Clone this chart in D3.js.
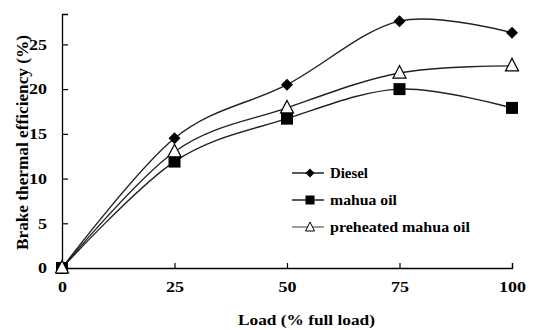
<!DOCTYPE html>
<meta charset="utf-8">
<body style="margin:0;background:#fff">
<script src="https://d3js.org/d3.v7.min.js"></script>
<script>

var width = 533,
    height = 330;

// data
var loads = [0, 25, 50, 75, 100];
var diesel = [0, 14.5, 20.5, 27.6, 26.3];
var mahua = [0, 11.9, 16.7, 20.0, 17.9];
var preheated = [0, 13.0, 17.9, 21.8, 22.6];
var xTicks = [0, 25, 50, 75, 100];
var yTicks = [0, 5, 10, 15, 20, 25];

var series = [
  {name: "Diesel", values: diesel, marker: "diamond", width: 38},
  {name: "mahua oil", values: mahua, marker: "square", width: 67},
  {name: "preheated mahua oil", values: preheated, marker: "triangle", width: 140}
];

var font = "Liberation Serif, DejaVu Serif, serif";

var svg = d3.select("body").append("svg")
    .attr("width", width)
    .attr("height", height)
    .attr("font-family", font);

var x = d3.scaleLinear().domain([0, 100]).range([62, 512]);
var y = d3.scaleLinear().domain([0, 28.4]).range([268, 14]);

// axes (the original picture is stretched sideways, so labels are widened)
var yAxis = svg.append("g")
    .attr("transform", "translate(62,0)")
    .call(d3.axisLeft(y).tickValues(yTicks).tickSize(-6).tickPadding(14));
var xAxis = svg.append("g")
    .attr("transform", "translate(0,268)")
    .call(d3.axisBottom(x).tickValues(xTicks).tickSize(-5).tickPadding(13));

[xAxis, yAxis].forEach(function(a) {
  a.attr("font-family", font).attr("font-size", 15).attr("font-weight", "bold");
  a.select(".domain").attr("stroke", "#000").attr("stroke-width", 1.3);
  a.selectAll(".tick line").attr("stroke", "#000").attr("stroke-width", 1.2);
  a.selectAll(".tick text").attr("fill", "#000");
});
xAxis.selectAll(".tick text").attr("transform", "scale(1.2,1)");
yAxis.selectAll(".tick text").attr("x", -15 / 1.2).attr("transform", "scale(1.2,1)");
// first x tick sits on the y-axis
xAxis.selectAll(".tick line").filter(function(d) { return d === 0; }).remove();

// axis titles
svg.append("text")
    .attr("x", 238).attr("y", 325)
    .attr("textLength", 137).attr("lengthAdjust", "spacingAndGlyphs")
    .attr("font-weight", "bold").attr("font-size", 15)
    .text("Load (% full load)");

svg.append("text")
    .attr("transform", "translate(28,250) rotate(-90)")
    .attr("textLength", 215).attr("lengthAdjust", "spacingAndGlyphs")
    .attr("font-weight", "bold").attr("font-size", 16)
    .text("Brake thermal efficiency (%)");

var line = d3.line()
    .x(function(d, i) { return x(loads[i]); })
    .y(function(d) { return y(d); })
    .curve(d3.curveCardinal.tension(0));

function drawMarker(g, type, cx, cy) {
  if (type === "diamond") {
    g.append("path")
        .attr("d", "M0,-6L6,0L0,6L-6,0Z")
        .attr("transform", "translate(" + cx + "," + cy + ")")
        .attr("fill", "#000");
  } else if (type === "square") {
    g.append("rect")
        .attr("x", cx - 6).attr("y", cy - 6)
        .attr("width", 12).attr("height", 12)
        .attr("fill", "#000");
  } else {
    g.append("path")
        .attr("d", "M0,-7.5L6.5,5L-6.5,5Z")
        .attr("transform", "translate(" + cx + "," + cy + ")")
        .attr("fill", "#fff").attr("stroke", "#000").attr("stroke-width", 1.2);
  }
}

var plot = svg.append("g");

// lines first, markers on top
series.forEach(function(s) {
  plot.append("path")
      .datum(s.values)
      .attr("d", line)
      .attr("fill", "none")
      .attr("stroke", "#222")
      .attr("stroke-width", 1.4);
});

series.forEach(function(s) {
  s.values.forEach(function(v, i) {
    drawMarker(plot, s.marker, x(loads[i]), y(v));
  });
});

// legend
var legend = svg.append("g");
series.forEach(function(s, i) {
  var ly = 173 + i * 27;
  legend.append("line")
      .attr("x1", 292).attr("x2", 324)
      .attr("y1", ly).attr("y2", ly)
      .attr("stroke", i === 2 ? "#666" : "#000")
      .attr("stroke-width", 1.3);
  if (s.marker === "triangle") {
    legend.append("path")
        .attr("d", "M0,-5L4.5,4L-4.5,4Z")
        .attr("transform", "translate(310," + ly + ")")
        .attr("fill", "#fff").attr("stroke", "#000");
  } else if (s.marker === "diamond") {
    legend.append("path")
        .attr("d", "M0,-4.5L4.5,0L0,4.5L-4.5,0Z")
        .attr("transform", "translate(310," + ly + ")")
        .attr("fill", "#000");
  } else {
    legend.append("rect")
        .attr("x", 305.5).attr("y", ly - 4.5)
        .attr("width", 9).attr("height", 9)
        .attr("fill", "#000");
  }
  legend.append("text")
      .attr("x", 330).attr("y", ly + 5)
      .attr("textLength", s.width).attr("lengthAdjust", "spacingAndGlyphs")
      .attr("font-weight", "bold").attr("font-size", 15)
      .text(s.name);
});

</script>
